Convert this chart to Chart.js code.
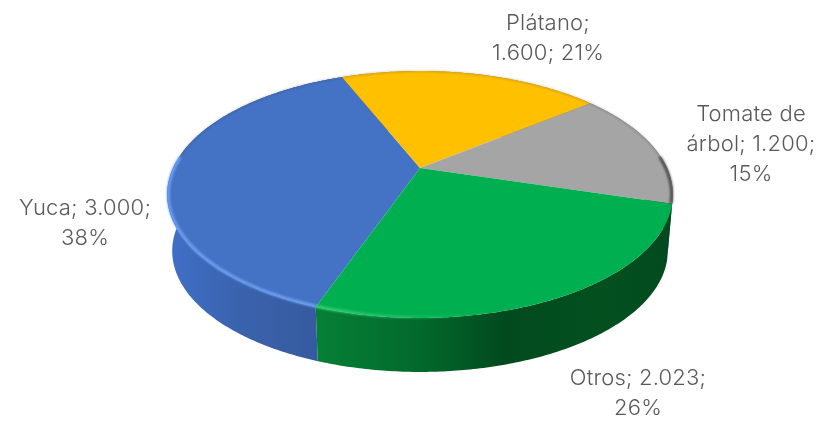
<!DOCTYPE html>
<html lang="es">
<head>
<meta charset="utf-8">
<title>Cultivos</title>
<style>
  html, body { margin: 0; padding: 0; background: #fff; }
  canvas { display: block; filter: blur(0.5px); }
</style>
<script src="https://cdn.jsdelivr.net/npm/chart.js@4"></script>
</head>
<body>
<canvas id="pie3d" width="820" height="441"></canvas>
<script>
// Data
const categories = ['Yuca', 'Plátano', 'Tomate de árbol', 'Otros'];
const values = [3000, 1600, 1200, 2023];
const percents = [38, 21, 15, 26];
const topColors = ['#4472C4', '#FFC000', '#A5A5A5', '#00B050'];

// Label placement (centre x, first baseline y, wrap width)
const labelX = [85, 548, 751, 638];
const labelY = [215, 30, 121, 385];
const labelWrap = [150, 130, 150, 155];

// Shading of the side wall, left to right
const sideStops = [
  [[170, '#3F6FC6'], [240, '#3A63AD'], [317, '#365A9F']],
  [[0, '#B58900'], [820, '#B58900']],
  [[600, '#6E6E6E'], [675, '#3C3C3C']],
  [[317, '#067F36'], [420, '#03692C'], [505, '#024A1E'], [600, '#03501F'], [672, '#024A1E']]
];
const rimColors = ['#6E9FF2', null, '#4A4A4A', '#35D077'];

// Perspective of the disc
const K = 0.2145;
const RX = 1.47;
const RY = 0.701;
const DEPTH = 57;
const BOTTOM_SCALE = 0.98;

function project(el, a, scale, dy) {
  const w = 1 - K * Math.sin(a);
  return [
    el.x + RX * el.outerRadius * scale * Math.cos(a) / w,
    el.y + dy + RY * el.outerRadius * scale * Math.sin(a) / w
  ];
}

// keep: optional test on the angle, used to pick the front or back of the rim
function rimPoints(el, from, to, scale, dy, keep) {
  const pts = [];
  const n = Math.max(2, Math.ceil((to - from) * 90));
  for (let i = 0; i <= n; i++) {
    const a = from + (to - from) * i / n;
    if (!keep || keep(a)) pts.push(project(el, a, scale, dy));
  }
  return pts;
}

function tracePoints(ctx, pts, moveFirst) {
  pts.forEach((p, i) => {
    if (i === 0 && moveFirst) ctx.moveTo(p[0], p[1]);
    else ctx.lineTo(p[0], p[1]);
  });
}

function wrapLabel(ctx, text, width) {
  const lines = [];
  let line = '';
  text.split(' ').forEach(word => {
    const next = line ? line + ' ' + word : word;
    if (line && ctx.measureText(next).width > width) {
      lines.push(line);
      line = word;
    } else {
      line = next;
    }
  });
  lines.push(line);
  return lines;
}

const disc3d = {
  id: 'disc3d',
  beforeDatasetsDraw(chart) {
    const ctx = chart.ctx;
    const arcs = chart.getDatasetMeta(0).data;

    // side wall
    arcs.forEach((el, i) => {
      const stops = sideStops[i];
      const x0 = stops[0][0];
      const span = stops[stops.length - 1][0] - x0;
      const grad = ctx.createLinearGradient(x0, 0, x0 + span, 0);
      stops.forEach(s => grad.addColorStop((s[0] - x0) / span, s[1]));
      ctx.beginPath();
      tracePoints(ctx, rimPoints(el, el.startAngle, el.endAngle, 1, 0), true);
      tracePoints(ctx, rimPoints(el, el.startAngle, el.endAngle, BOTTOM_SCALE, DEPTH).reverse(), false);
      ctx.closePath();
      ctx.fillStyle = grad;
      ctx.fill();
    });

    // top face
    arcs.forEach((el, i) => {
      ctx.beginPath();
      ctx.moveTo(el.x, el.y);
      tracePoints(ctx, rimPoints(el, el.startAngle, el.endAngle, 1, 0), false);
      ctx.closePath();
      ctx.fillStyle = topColors[i];
      ctx.fill();
    });

    const front = a => Math.sin(a) > -0.1;
    const back = a => Math.sin(a) <= -0.1;

    // bevel along the rim
    ctx.save();
    ctx.filter = 'blur(1.2px)';
    arcs.forEach((el, i) => {
      // thin dark edge at the back
      ctx.beginPath();
      tracePoints(ctx, rimPoints(el, el.startAngle, el.endAngle, 0.998, 0, back), true);
      ctx.lineWidth = 1.2;
      ctx.strokeStyle = 'rgba(50,50,50,0.3)';
      ctx.stroke();

      if (!rimColors[i]) return;
      ctx.beginPath();
      tracePoints(ctx, rimPoints(el, el.startAngle, el.endAngle, 0.995, 0, front), true);
      ctx.lineWidth = 3;
      if (i === 3) {
        const g = ctx.createLinearGradient(317, 0, 470, 0);
        g.addColorStop(0, rimColors[i]);
        g.addColorStop(1, 'rgba(53,208,119,0)');
        ctx.strokeStyle = g;
      } else {
        ctx.strokeStyle = rimColors[i];
      }
      ctx.stroke();
    });
    ctx.restore();
    return false;
  },
  afterDraw(chart) {
    const ctx = chart.ctx;
    ctx.save();
    ctx.font = '300 22px Inter';
    ctx.letterSpacing = '0.2px';
    ctx.fillStyle = '#595959';
    ctx.textAlign = 'center';
    categories.forEach((name, i) => {
      const value = values[i].toLocaleString('de-DE');
      const text = `${name}; ${value}; ${percents[i]}%`;
      wrapLabel(ctx, text, labelWrap[i]).forEach((line, j) => {
        ctx.fillText(line, labelX[i], labelY[i] + j * 30);
      });
    });
    ctx.restore();
  }
};

new Chart(document.getElementById('pie3d'), {
  type: 'pie',
  data: {
    labels: categories,
    datasets: [{ data: values, backgroundColor: topColors, borderWidth: 0 }]
  },
  options: {
    responsive: false,
    animation: false,
    devicePixelRatio: 1,
    rotation: 199.7,
    layout: { padding: { left: 20, right: 0, top: 0, bottom: 105 } },
    plugins: { legend: { display: false }, tooltip: { enabled: false } }
  },
  plugins: [disc3d]
});
</script>
</body>
</html>
